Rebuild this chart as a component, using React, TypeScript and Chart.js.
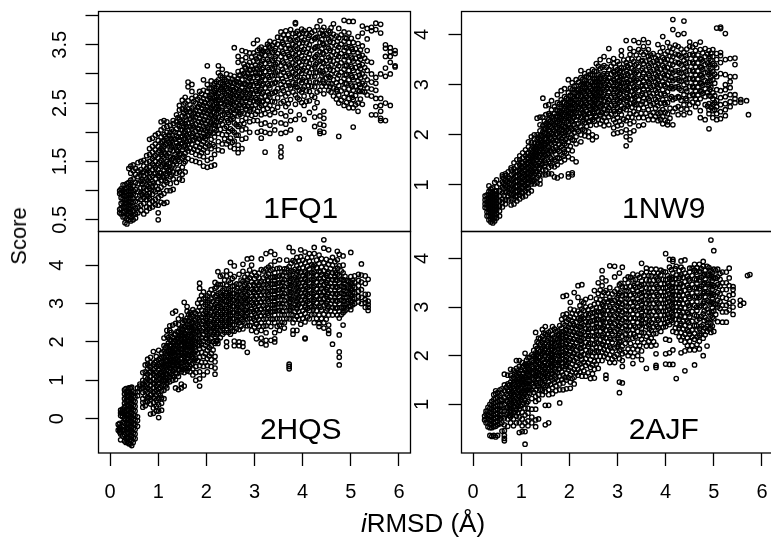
import React, { useEffect, useRef } from "react";
import { Chart, registerables } from "chart.js";

Chart.register(...registerables);

const FONT = '"Liberation Sans", Arial, sans-serif';

const xTicks = [0, 1, 2, 3, 4, 5, 6];
const ticks1FQ1 = [0.5, 1, 1.5, 2, 2.5, 3, 3.5, 4];
const labels1FQ1 = [0.5, 1.5, 2.5, 3.5];
const ticks1NW9 = [1, 2, 3, 4];
const ticks2HQS = [0, 1, 2, 3, 4];
const ticks2AJF = [1, 2, 3, 4];

// each row: one x reading with the scores read at about that x
const cols1FQ1: [number, number[]][] = [
[.2,[.62,.68,.95,1.0]],[.23,[.6,.7,.78,.88,.97,1.03]],[.27,[.55,.63,.72,.8,.86,.92,1.0,1.1]],
[.31,[.45,.55,.64,.71,.78,.84,.9,.97,1.03,1.1]],[.35,[.43,.52,.6,.66,.73,.79,.85,.92,.98,1.05,1.12]],
[.39,[.5,.58,.64,.7,.76,.82,.88,.94,1,1.07,1.14,1.38]],[.43,[.48,.55,.62,.68,.74,.8,.86,.92,.98,1.04,1.1,1.18,1.3,1.42]],
[.48,[.5,.58,.66,.73,.8,.87,.94,1.0,1.08,1.2,1.34,1.44]],[.53,[.53,.6,.7,.82,.92,1.02,1.14,1.28,1.38]],
[.58,[.62,.72,.86,.98,1.12,1.24,1.34,1.48]],[.64,[.66,.75,.85,.96,1.05,1.16,1.26,1.36,1.5]],
[.7,[.6,.78,.88,.97,1.05,1.15,1.25,1.33,1.42,1.52]],[.76,[.65,.72,.85,.93,1.02,1.1,1.2,1.3,1.38,1.48,1.6]],
[.82,[.7,.78,.86,.95,1.04,1.13,1.22,1.31,1.4,1.5,1.62,1.72,1.88]],[.88,[.72,.82,.94,1.06,1.16,1.25,1.36,1.46,1.55,1.66,1.76,1.9]],
[.94,[.76,.85,.98,1.08,1.2,1.3,1.39,1.5,1.6,1.7,1.8,1.95]],[1.0,[.5,.62,.75,.88,1.02,1.14,1.26,1.36,1.46,1.56,1.66,1.76,1.86,1.98]],
[1.06,[.8,.92,1.06,1.18,1.3,1.42,1.52,1.62,1.72,1.82,1.92,2.04,2.18]],[1.12,[.78,.95,1.1,1.22,1.34,1.46,1.56,1.66,1.76,1.86,1.96,2.08,2.2]],
[1.18,[.8,1.0,1.14,1.26,1.38,1.5,1.6,1.7,1.8,1.9,2.0,2.1,2.18]],[1.25,[1.0,1.12,1.24,1.36,1.48,1.58,1.7,1.8,1.9,2.0,2.12]],
[1.31,[1.02,1.2,1.32,1.44,1.56,1.68,1.78,1.9,2.02,2.15,2.2]],[1.38,[1.14,1.3,1.46,1.58,1.7,1.82,1.94,2.06,2.18,2.3]],
[1.44,[1.2,1.32,1.5,1.62,1.74,1.86,1.98,2.1,2.22,2.38,2.46]],[1.5,[1.18,1.28,1.4,1.56,1.7,1.82,1.94,2.04,2.16,2.28,2.4,2.55]],
[1.56,[1.32,1.5,1.64,1.78,1.9,2.02,2.14,2.26,2.38,2.5,2.6]],[1.62,[1.55,1.68,1.8,1.92,2.04,2.16,2.28,2.4,2.54,2.78,2.86]],
[1.7,[1.52,1.66,1.8,1.94,2.06,2.18,2.3,2.42,2.58,2.7,2.82]],[1.78,[1.5,1.62,1.76,1.9,2.02,2.14,2.26,2.38,2.5,2.62]],
[1.86,[1.48,1.6,1.74,1.88,2.0,2.12,2.24,2.36,2.48,2.6,2.7]],[1.94,[1.42,1.58,1.7,1.84,1.98,2.1,2.22,2.34,2.46,2.58,2.72,2.9]],
[2.02,[1.4,1.52,1.66,1.8,1.94,2.08,2.2,2.32,2.44,2.56,2.7,2.82,3.14]],[2.1,[1.42,1.55,1.72,1.88,2.02,2.16,2.28,2.4,2.52,2.64,2.76,2.88]],
[2.17,[1.44,1.62,1.76,1.92,2.06,2.2,2.34,2.48,2.6,2.72,2.84]],[2.25,[1.7,1.84,1.98,2.12,2.26,2.4,2.54,2.66,2.78,2.9,3.02,3.14]],
[2.33,[1.68,1.8,1.96,2.14,2.3,2.44,2.56,2.7,2.82,2.94,3.08]],[2.42,[1.8,1.96,2.1,2.24,2.38,2.52,2.64,2.76,2.88,3.0]],
[2.5,[1.75,1.9,2.06,2.22,2.36,2.5,2.62,2.74,2.86,2.98]],[2.58,[1.72,1.85,2.0,2.16,2.32,2.46,2.58,2.7,2.84,2.96,3.45]],
[2.66,[1.65,1.78,1.95,2.1,2.28,2.42,2.56,2.68,2.8,2.92,3.04,3.2,3.3]],[2.74,[1.72,1.88,2.04,2.2,2.36,2.5,2.62,2.76,2.9,3.06,3.24,3.4]],
[2.82,[1.9,2.06,2.24,2.4,2.54,2.68,2.82,2.96,3.1,3.28,3.38]],[2.9,[2.0,2.18,2.36,2.5,2.64,2.78,2.92,3.06,3.2,3.36]],
[2.98,[2.2,2.4,2.54,2.66,2.8,2.94,3.08,3.22,3.36,3.52]],[3.06,[2.0,2.2,2.36,2.52,2.66,2.8,2.94,3.08,3.22,3.4,3.58]],
[3.14,[1.9,2.02,2.14,2.3,2.46,2.6,2.74,2.88,3.02,3.16,3.34,3.46]],[3.22,[1.66,2.0,2.16,2.32,2.48,2.62,2.76,2.9,3.04,3.18,3.32,3.44]],
[3.32,[1.98,2.12,2.3,2.46,2.6,2.76,2.9,3.04,3.18,3.32,3.46,3.56]],[3.42,[2.04,2.18,2.34,2.52,2.68,2.84,2.98,3.12,3.26,3.4,3.54]],
[3.55,[1.58,1.66,1.75,1.98,2.16,2.32,2.5,2.66,2.82,2.98,3.14,3.3,3.46,3.62,3.72]],[3.65,[2.0,2.14,2.28,2.44,2.62,2.8,2.96,3.12,3.28,3.44,3.6,3.74]],
[3.75,[2.04,2.2,2.36,2.56,2.76,2.94,3.1,3.26,3.42,3.58,3.76]],[3.85,[2.22,2.48,2.64,2.82,3.0,3.16,3.32,3.48,3.64,3.86,3.88]],
[3.93,[1.89,2.3,2.56,2.72,2.88,3.04,3.2,3.36,3.52,3.68]],[4.03,[2.22,2.46,2.62,2.78,2.94,3.1,3.26,3.42,3.58,3.74]],
[4.14,[2.34,2.54,2.7,2.86,3.02,3.18,3.34,3.5,3.66,3.76]],[4.25,[2.1,2.26,2.42,2.6,2.78,2.96,3.12,3.28,3.44,3.6,3.74]],
[4.36,[1.98,2.02,2.14,2.28,2.72,2.9,3.06,3.22,3.38,3.54,3.7,3.91]],[4.44,[2.0,2.12,2.24,2.36,2.66,2.84,3.0,3.18,3.34,3.5,3.66,3.8]],
[4.54,[2.72,2.84,2.96,3.12,3.28,3.44,3.6,3.74]],[4.64,[2.62,2.76,2.9,3.06,3.22,3.38,3.54,3.68,3.86]],
[4.75,[1.93,2.5,2.64,2.8,2.98,3.14,3.3,3.46,3.62,3.78]],[4.86,[2.46,2.6,2.76,2.92,3.08,3.24,3.4,3.56,3.72,3.92]],
[4.96,[2.42,2.58,2.74,2.9,3.06,3.22,3.38,3.54,3.7,3.9]],[5.05,[2.09,2.42,2.56,2.72,2.9,3.06,3.22,3.38,3.54,3.9]],
[5.15,[2.36,2.5,2.72,2.88,3.04,3.2,3.36,3.52,3.64]],[5.24,[2.48,2.7,2.84,3.0,3.16,3.32,3.48,3.7,3.82]],
[5.34,[2.64,2.76,2.9,3.06,3.22,3.4,3.6,3.78]],[5.43,[2.3,2.62,2.74,2.86,3.0,3.2,3.74,3.8]],
[5.52,[2.3,2.44,2.58,2.72,2.84,2.94,3.76,3.87]],[5.62,[2.2,2.24,2.36,2.46,2.58,3.0,3.7,3.85]],
[5.72,[2.2,2.5,2.96,3.1,3.3,3.44,3.5]],[5.82,[2.46,3.0,3.2,3.3,3.38,3.45]],[5.92,[3.12,3.14,3.35,3.4]]
];

const extra1FQ1: [number, number[]][] = [
[.67,[.93,1.11,1.19,1.31]],[.79,[.9,1.07,1.17,1.34]],[.91,[1.01,1.13,1.29,1.43,1.58]],[1.03,[.97,1.23,1.31,1.49,1.69]],
[1.15,[1.17,1.29,1.41,1.63,1.79,1.93]],[1.28,[1.27,1.39,1.53,1.75,1.87,2.05]],[1.41,[1.37,1.53,1.67,1.77,1.91,2.13,2.25]],
[1.53,[1.47,1.59,1.75,1.87,1.99,2.09,2.33,2.47]],[1.66,[1.73,1.85,1.97,2.09,2.23,2.35,2.47]],[1.74,[1.71,1.87,2.09,2.21,2.33,2.53]],
[1.82,[1.69,1.83,1.95,2.07,2.31,2.43,2.57]],[1.9,[1.65,1.79,1.93,2.17,2.29,2.41,2.53,2.66]],[1.98,[1.75,1.89,2.03,2.15,2.27,2.39,2.51,2.63]],
[2.06,[1.77,1.97,2.11,2.25,2.37,2.49,2.61,2.75]],[2.14,[1.79,1.99,2.13,2.23,2.35,2.45,2.57,2.69,2.81]],[2.21,[2.03,2.17,2.31,2.43,2.51,2.63,2.75,2.87]],
[2.29,[2.05,2.19,2.35,2.49,2.59,2.73,2.85,2.97]],[2.38,[1.89,2.07,2.31,2.47,2.57,2.67,2.79,2.91]],[2.46,[1.85,2.01,2.17,2.31,2.45,2.57,2.69,2.81,2.93]],
[2.54,[1.83,2.03,2.27,2.41,2.53,2.65,2.77,2.91]],[2.62,[1.95,2.13,2.37,2.51,2.63,2.75,2.87]],[2.7,[2.13,2.31,2.47,2.59,2.71,2.83,2.97]],
[2.78,[2.15,2.33,2.47,2.59,2.69,2.83,3.01,3.17]],[2.86,[2.31,2.45,2.59,2.73,2.87,3.01,3.15]],[2.94,[2.29,2.45,2.6,2.73,2.87,3.01,3.13,3.29]],
[3.02,[2.31,2.47,2.59,2.73,2.87,3.03,3.15,3.31]],[3.1,[2.43,2.55,2.71,2.85,3.01,3.13,3.29,3.43]],[3.18,[2.39,2.53,2.69,2.83,2.97,3.11,3.25,3.39]],
[3.27,[2.41,2.55,2.69,2.83,2.97,3.11,3.25,3.39,3.51]],[3.37,[2.39,2.53,2.67,2.83,2.97,3.09,3.23,3.37,3.49]],[3.48,[2.43,2.59,2.75,2.91,3.05,3.19,3.35,3.51,3.63]],
[3.6,[2.53,2.71,2.87,3.03,3.19,3.35,3.51,3.67]],[3.7,[2.49,2.67,2.85,3.01,3.17,3.33,3.49,3.67]],[3.8,[2.69,2.85,3.03,3.19,3.35,3.51,3.69]],
[3.89,[2.59,2.77,2.95,3.11,3.27,3.43,3.59,3.73]],[3.98,[2.51,2.69,2.85,3.01,3.15,3.31,3.47,3.63,3.77]],[4.08,[2.53,2.71,2.87,3.05,3.21,3.37,3.53,3.69]],
[4.19,[2.63,2.79,2.95,3.09,3.25,3.41,3.57,3.71]],[4.3,[2.51,2.69,2.85,3.03,3.19,3.33,3.47,3.63,3.81]],[4.4,[2.79,2.97,3.11,3.27,3.43,3.59,3.75]],
[4.49,[2.79,2.93,3.07,3.23,3.39,3.53,3.69]],[4.59,[2.69,2.83,2.99,3.15,3.31,3.47,3.63,3.79]],[4.7,[2.57,2.73,2.85,3.01,3.17,3.33,3.49,3.65]],
[4.8,[2.55,2.71,2.87,3.03,3.19,3.35,3.51,3.67]],[4.91,[2.51,2.67,2.83,2.99,3.15,3.31,3.45,3.61]],[5.01,[2.49,2.65,2.81,2.97,3.13,3.29,3.45,3.61]],
[5.1,[2.47,2.63,2.79,2.95,3.11,3.27,3.43]],[5.2,[2.57,2.77,2.93,3.09,3.25,3.41]],[5.29,[2.69,2.81,2.95,3.11,3.27]]
];

const core1FQ1: [number, number[]][] = [
[1.09,[1.25,1.44,1.59,1.7,1.84]],[1.22,[1.35,1.47,1.64,1.83,1.95]],[1.35,[1.5,1.62,1.75,1.88,2.0]],[1.47,[1.64,1.8,1.92,2.05,2.19]],
[1.59,[1.72,1.84,1.95,2.1,2.21,2.36]],[1.72,[1.86,1.98,2.12,2.26,2.38]],[1.84,[1.9,2.05,2.18,2.3,2.44]],[1.96,[1.93,2.06,2.2,2.36,2.5]],
[2.08,[2.0,2.14,2.3,2.42,2.58]],[2.19,[2.12,2.26,2.4,2.55,2.68]],[2.31,[2.22,2.38,2.5,2.62,2.76]],[2.44,[2.2,2.34,2.48,2.6,2.72,2.84]],
[2.56,[2.24,2.38,2.5,2.62,2.73,2.86]],[2.68,[2.34,2.46,2.6,2.72,2.86,2.98]],[2.8,[2.44,2.58,2.72,2.84,2.98,3.12]],[2.92,[2.4,2.56,2.68,2.82,2.96,3.08]],
[3.04,[2.56,2.7,2.84,2.98,3.1,3.26]],[3.16,[2.52,2.66,2.8,2.94,3.08,3.22,3.36]],[3.3,[2.64,2.8,2.94,3.08,3.22,3.36,3.48]],[3.44,[2.7,2.86,3.02,3.16,3.3,3.44]],
[3.58,[2.76,2.92,3.08,3.22,3.38,3.54]],[3.72,[2.8,2.98,3.14,3.3,3.44,3.6]],[3.86,[2.78,2.92,3.08,3.24,3.4,3.56,3.7]],[4.0,[2.74,2.9,3.06,3.22,3.38,3.54,3.7]],
[4.12,[2.8,2.96,3.12,3.28,3.44,3.62]],[4.27,[2.86,3.02,3.16,3.3,3.46,3.62]],[4.42,[2.88,3.04,3.2,3.36,3.52,3.68]],[4.57,[2.78,2.94,3.08,3.24,3.4,3.56,3.72]],
[4.72,[2.7,2.92,3.08,3.24,3.4,3.56]],[4.88,[2.84,2.98,3.14,3.3,3.46,3.62]],[5.03,[2.6,2.78,2.94,3.1,3.26,3.42]],[5.18,[2.7,2.82,2.98,3.14,3.3]]
];

const cols1NW9: [number, number[]][] = [
[.25,[.55,.62,.7,.78]],[.29,[.38,.46,.54,.6,.66,.72,.8]],[.33,[.3,.38,.45,.5,.56,.62,.68,.74,.8,.87,.98]],
[.37,[.26,.32,.38,.44,.5,.56,.62,.68,.74,.8,.86,.92]],[.41,[.24,.3,.36,.42,.48,.54,.6,.66,.72,.78,.84,.94]],
[.45,[.28,.34,.4,.46,.52,.58,.64,.7,.76,.82,.88,1.05]],[.49,[.34,.42,.5,.56,.62,.68,.74,.8,.88,.96,1.1]],
[.55,[.38,.48,.58,.68,.78,.88,1.02]],[.61,[.56,.65,.72,.84,.96,1.06,1.16,1.2]],[.67,[.62,.7,.86,.98,1.08,1.18,1.22]],
[.73,[.7,.78,.88,.98,1.08,1.16,1.26]],[.79,[.6,.72,.8,.9,1.0,1.1,1.2,1.3,1.34]],[.85,[.62,.72,.82,.92,1.02,1.12,1.22,1.32,1.44]],
[.91,[.68,.78,.88,.98,1.08,1.18,1.28,1.38,1.5]],[.97,[.72,.8,.9,1.0,1.1,1.2,1.3,1.4,1.5,1.58]],
[1.03,[.76,.84,.94,1.04,1.14,1.24,1.34,1.44,1.54,1.64]],[1.09,[.78,.88,.98,1.08,1.18,1.28,1.38,1.48,1.58,1.7]],
[1.15,[.84,.94,1.04,1.14,1.24,1.34,1.44,1.54,1.64,1.76,1.86]],[1.21,[.88,1.02,1.12,1.22,1.32,1.42,1.52,1.62,1.72,1.84,1.96]],
[1.27,[1.02,1.1,1.22,1.32,1.42,1.52,1.62,1.72,1.82,1.92,2.0]],[1.33,[1.04,1.14,1.26,1.38,1.5,1.6,1.7,1.8,1.9,2.0,2.33]],
[1.39,[1.02,1.1,1.22,1.34,1.46,1.58,1.68,1.78,1.88,1.98,2.08,2.2,2.35]],[1.45,[1.2,1.3,1.42,1.54,1.66,1.76,1.86,1.96,2.06,2.18,2.35,2.73]],
[1.51,[1.2,1.3,1.44,1.58,1.7,1.82,1.92,2.02,2.12,2.22,2.4,2.58]],[1.57,[1.22,1.34,1.46,1.62,1.76,1.88,2.0,2.1,2.2,2.3,2.42,2.6]],
[1.63,[1.22,1.38,1.52,1.66,1.8,1.92,2.04,2.14,2.24,2.36,2.5,2.68]],[1.69,[1.16,1.36,1.5,1.68,1.84,1.96,2.08,2.2,2.3,2.42,2.56]],
[1.75,[1.14,1.4,1.54,1.7,1.88,2.02,2.14,2.26,2.36,2.48,2.64,2.8]],[1.83,[1.18,1.46,1.6,1.76,1.92,2.08,2.2,2.32,2.44,2.56,2.7,2.88]],
[1.9,[1.5,1.66,1.82,1.98,2.14,2.28,2.4,2.52,2.64,2.76,2.92]],[1.98,[1.16,1.22,1.56,1.7,1.86,2.06,2.2,2.34,2.46,2.58,2.7,2.84,3.1]],
[2.06,[1.2,1.24,1.52,1.68,1.9,2.1,2.26,2.4,2.52,2.64,2.76,2.9,3.04]],[2.14,[1.46,1.82,1.96,2.14,2.3,2.44,2.58,2.7,2.84,2.98,3.1]],
[2.24,[1.86,2.0,2.16,2.34,2.5,2.62,2.76,2.88,3.0,3.14,3.28]],[2.32,[1.98,2.08,2.24,2.4,2.54,2.68,2.82,2.94,3.08,3.22]],
[2.4,[1.96,2.06,2.26,2.42,2.58,2.72,2.86,3.0,3.14,3.26]],[2.48,[1.9,2.0,2.3,2.46,2.6,2.76,2.9,3.04,3.18,3.3]],
[2.56,[1.96,2.2,2.36,2.52,2.68,2.82,2.96,3.1,3.26,3.42]],[2.64,[2.22,2.4,2.58,2.74,2.88,3.02,3.16,3.32,3.5]],
[2.72,[2.18,2.34,2.5,2.66,2.8,2.94,3.08,3.22,3.38,3.56]],[2.82,[2.2,2.36,2.54,2.7,2.86,3.0,3.14,3.3,3.48,3.72]],
[2.92,[2.02,2.14,2.3,2.5,2.66,2.82,2.96,3.1,3.26,3.42,3.52]],[3.0,[2.04,2.18,2.34,2.54,2.7,2.86,3.0,3.14,3.3,3.46]],
[3.08,[2.06,2.2,2.4,2.58,2.74,2.9,3.04,3.18,3.34,3.58,3.68]],[3.18,[1.78,1.96,2.1,2.28,2.5,2.68,2.84,2.98,3.12,3.28,3.44,3.88]],
[3.26,[1.9,2.04,2.22,2.42,2.62,2.78,2.94,3.08,3.24,3.4,3.6,3.72]],[3.34,[2.08,2.26,2.46,2.64,2.8,2.96,3.12,3.28,3.46,3.66,3.88]],
[3.44,[2.18,2.34,2.52,2.7,2.88,3.04,3.2,3.36,3.52,3.7,3.84]],[3.54,[2.2,2.34,2.54,2.74,2.92,3.08,3.24,3.42,3.6,3.76,3.9]],
[3.64,[2.3,2.5,2.72,2.9,3.06,3.22,3.38,3.56,3.7,3.84]],[3.74,[2.3,2.44,2.62,2.82,2.98,3.14,3.3,3.46,3.62]],
[3.84,[2.28,2.42,2.58,2.76,2.94,3.1,3.26,3.42,3.58,3.8]],[3.94,[2.22,2.36,2.5,2.7,2.9,3.06,3.22,3.38,3.54,3.74,3.96]],
[4.04,[2.2,2.26,2.42,2.64,2.86,3.02,3.18,3.34,3.5,3.66,3.84]],[4.15,[2.2,2.46,2.7,2.92,3.08,3.24,3.4,3.56,3.72,4.1,4.3]],
[4.26,[2.4,2.56,2.76,2.96,3.12,3.28,3.44,3.6,3.76,4.0]],[4.38,[2.4,2.6,2.8,3.0,3.16,3.32,3.48,3.64,4.02,4.27]],
[4.5,[2.44,2.6,2.78,2.96,3.12,3.28,3.44,3.6,3.76,3.85]],[4.62,[2.56,2.72,2.88,3.04,3.2,3.36,3.52,3.68,3.8]],
[4.72,[2.34,2.48,2.72,2.88,3.04,3.2,3.36,3.52,3.7,3.85]],[4.82,[2.3,2.6,2.76,2.92,3.08,3.24,3.4,3.56,3.72]],
[4.9,[2.12,2.42,2.5,2.62,2.78,3.0,3.2,3.36,3.52,3.68]],[4.98,[2.34,2.48,2.6,2.72,2.84,3.1,3.26,3.42,3.56,3.7]],
[5.06,[2.3,2.42,2.56,2.68,2.9,3.16,3.34,3.5,3.62,4.13]],[5.14,[2.32,2.46,2.6,2.74,2.88,3.22,3.44,3.58,3.64,4.12,4.15]],
[5.24,[2.38,2.5,2.62,2.76,2.9,3.0,3.2,3.5,4.02]],[5.34,[2.56,2.66,2.8,2.94,3.06,3.16,3.52]],
[5.44,[2.64,2.72,2.8,3.16,3.4,3.53]],[5.56,[2.65,2.7]],[5.68,[2.68]],[5.72,[2.4]]
];

const extra1NW9: [number, number[]][] = [
[.64,[.79,.93,1.03,1.13]],[.76,[.83,.93,1.03,1.13]],[.88,[.77,.87,.97,1.07,1.17,1.27]],[1.0,[.85,.95,1.05,1.15,1.25,1.35,1.45]],
[1.12,[.93,1.03,1.13,1.23,1.33,1.43,1.53,1.63]],[1.24,[1.07,1.17,1.27,1.37,1.47,1.57,1.67,1.77]],[1.36,[1.19,1.31,1.43,1.55,1.65,1.75,1.85,1.95]],
[1.48,[1.37,1.49,1.61,1.73,1.83,1.93,2.03,2.13,2.27]],[1.6,[1.43,1.55,1.69,1.83,1.95,2.07,2.17,2.27,2.39]],[1.72,[1.47,1.61,1.75,1.89,2.01,2.13,2.25,2.37,2.5]],
[1.79,[1.53,1.67,1.81,1.97,2.11,2.23,2.35,2.47,2.61]],[1.87,[1.57,1.71,1.87,2.03,2.17,2.29,2.41,2.53,2.65]],[1.94,[1.63,1.79,1.93,2.09,2.25,2.37,2.49,2.61,2.73]],
[2.02,[1.77,1.95,2.15,2.31,2.43,2.55,2.67,2.79,2.93]],[2.1,[1.89,2.05,2.21,2.35,2.47,2.61,2.73,2.85,2.97]],[2.19,[2.07,2.23,2.37,2.53,2.65,2.79,2.91,3.05]],
[2.28,[2.11,2.27,2.45,2.57,2.71,2.85,2.97,3.11]],[2.36,[2.17,2.33,2.47,2.61,2.75,2.89,3.03,3.17]],[2.44,[2.19,2.35,2.51,2.65,2.79,2.93,3.07,3.21]],
[2.52,[2.27,2.43,2.57,2.71,2.85,2.99,3.13,3.27]],[2.6,[2.31,2.47,2.63,2.79,2.93,3.07,3.21,3.37]],[2.68,[2.29,2.45,2.61,2.77,2.91,3.05,3.19,3.35]],
[2.77,[2.27,2.43,2.59,2.75,2.91,3.05,3.19,3.35]],[2.87,[2.41,2.59,2.75,2.91,3.05,3.21,3.37]],[2.96,[2.25,2.41,2.59,2.75,2.91,3.05,3.21,3.35]],
[3.04,[2.27,2.47,2.65,2.81,2.95,3.09,3.25,3.41]],[3.13,[2.31,2.53,2.71,2.87,3.03,3.17,3.33,3.49]],[3.22,[2.35,2.57,2.73,2.89,3.03,3.19,3.35,3.51]],
[3.3,[2.35,2.55,2.71,2.87,3.03,3.17,3.33,3.51]],[3.39,[2.41,2.61,2.77,2.93,3.09,3.25,3.41,3.59]],[3.49,[2.43,2.61,2.79,2.97,3.13,3.29,3.47,3.65]],
[3.59,[2.43,2.63,2.81,2.97,3.13,3.29,3.47,3.65]],[3.69,[2.39,2.59,2.77,2.95,3.11,3.27,3.43,3.59]],[3.79,[2.37,2.53,2.71,2.89,3.05,3.21,3.37,3.53]],
[3.89,[2.31,2.45,2.63,2.81,2.99,3.15,3.31,3.47,3.65]],[3.99,[2.29,2.45,2.61,2.79,2.97,3.13,3.29,3.45,3.61]],[4.09,[2.33,2.53,2.73,2.93,3.09,3.25,3.41,3.57,3.75]],
[4.2,[2.53,2.73,2.95,3.11,3.27,3.45,3.61,3.79]],[4.32,[2.51,2.69,2.89,3.07,3.23,3.39,3.55,3.71]],[4.44,[2.51,2.69,2.87,3.05,3.21,3.37,3.53,3.71]],
[4.56,[2.65,2.81,2.97,3.13,3.29,3.45,3.61,3.75]],[4.67,[2.63,2.79,2.95,3.11,3.27,3.43,3.59]],[4.77,[2.83,2.99,3.15,3.31,3.47,3.63]],
[4.87,[2.57,2.85,3.05,3.25,3.43,3.61]],[4.94,[2.55,2.77,2.95,3.15,3.33,3.49,3.63]],[5.02,[2.5,2.64,2.78,3.03,3.21,3.39]]
];

const core1NW9: [number, number[]][] = [
[1.06,[1.0,1.11,1.22,1.36]],[1.18,[1.1,1.2,1.3,1.47,1.58]],[1.3,[1.27,1.4,1.56,1.66,1.76]],[1.42,[1.4,1.5,1.62,1.73,1.84,1.98]],
[1.54,[1.6,1.72,1.85,1.98,2.15,2.25]],[1.66,[1.72,1.88,2.0,2.1,2.22,2.34]],[1.78,[1.8,1.94,2.06,2.18,2.3,2.42]],[1.92,[1.9,2.04,2.16,2.32,2.44,2.56]],
[2.04,[2.0,2.12,2.28,2.44,2.58,2.7]],[2.16,[2.1,2.22,2.36,2.48,2.62,2.76,2.88]],[2.3,[2.3,2.42,2.58,2.72,2.86,3.0]],[2.42,[2.28,2.44,2.56,2.7,2.82,2.96]],
[2.54,[2.38,2.54,2.66,2.8,2.92,3.06]],[2.66,[2.44,2.56,2.7,2.84,2.98,3.12]],[2.79,[2.48,2.64,2.78,2.94,3.08,3.22]],[2.93,[2.46,2.62,2.78,2.92,3.08,3.24]],
[3.06,[2.5,2.68,2.84,2.98,3.14,3.28]],[3.2,[2.6,2.76,2.92,3.06,3.22,3.38]],[3.36,[2.6,2.74,2.9,3.06,3.22,3.38]],[3.52,[2.66,2.82,2.98,3.16,3.32,3.48]],
[3.66,[2.68,2.84,3.02,3.18,3.34,3.5]],[3.82,[2.66,2.84,3.0,3.16,3.32,3.48]],[3.97,[2.64,2.82,3.0,3.18,3.34,3.5]],[4.12,[2.76,2.96,3.14,3.3,3.48,3.64]],
[4.28,[2.74,2.92,3.08,3.24,3.42,3.58]],[4.42,[2.72,2.92,3.1,3.26,3.42,3.58]],[4.58,[2.78,2.94,3.1,3.26,3.42,3.58]],[4.74,[2.86,3.02,3.18,3.34,3.5]],[4.92,[2.9,3.08,3.24,3.4,3.56]]
];

const cols2HQS: [number, number[]][] = [
[.17,[-.3,-.15]],[.2,[-.35,-.28,-.22,-.12]],[.22,[.08,.15,.22,-.25,-.32,-.4,-.55]],[.26,[-.45,-.3,-.1,.05,.14,.2,.25]],
[.3,[-.58,-.42,-.28,-.12,0,.1,.2,.3,.4,.52,.64,.75]],[.33,[-.62,-.5,-.38,-.26,-.14,-.02,.1,.22,.34,.46,.58,.7,.78]],
[.36,[-.6,-.48,-.36,-.24,-.12,0,.12,.24,.36,.48,.6,.72]],[.39,[-.65,-.5,-.38,-.26,-.14,-.02,.1,.22,.34,.46,.58,.7,.8]],
[.42,[-.66,-.54,-.42,-.3,-.18,-.06,.06,.18,.3,.42,.54,.66,.8]],[.45,[-.7,-.56,-.44,-.32,-.2,-.08,.04,.16,.28,.4,.52,.64,.82]],
[.48,[-.62,-.5,-.38,-.26,-.14,-.02,.1,.22,.34,.46,.58,.7]],[.52,[-.52,-.4,-.28,-.16,-.04,.08,.2,.32,.44,.56,.68]],
[.57,[-.2,-.05,.05,.6,.7,.8]],[.62,[.78,.85,.9]],[.68,[.3,.42,.52,.68,.8,.9,1.0,1.2]],[.73,[.34,.44,.6,.72,.84,.96,1.08,1.22,1.4]],
[.78,[.45,.56,.68,.8,.92,1.04,1.16,1.3,1.42,1.55]],[.84,[.12,.38,.5,.62,.74,.86,.98,1.1,1.22,1.34,1.46,1.6]],
[.9,[.14,.28,.42,.55,.68,.8,.92,1.04,1.16,1.28,1.42,1.75]],[.96,[.2,.32,.48,.62,.74,.86,.98,1.1,1.22,1.36,1.5,1.62]],
[1.01,[.03,.2,.36,.52,.66,.78,.9,1.02,1.14,1.26,1.4,1.54,1.78]],[1.07,[.22,.4,.54,.72,.86,.98,1.1,1.22,1.34,1.46,1.6,1.72]],
[1.12,[.52,.74,.88,1.0,1.12,1.24,1.36,1.48,1.6,1.76,1.9,2.1]],[1.18,[.8,.92,1.04,1.16,1.28,1.4,1.52,1.64,1.76,1.9,2.16,2.3]],
[1.24,[.96,1.08,1.2,1.32,1.44,1.56,1.68,1.8,1.92,2.06,2.3,2.42]],[1.3,[1.0,1.12,1.24,1.36,1.48,1.6,1.72,1.84,1.98,2.12,2.44,2.75]],
[1.36,[.8,1.02,1.2,1.32,1.44,1.56,1.68,1.8,1.92,2.04,2.2,2.48,2.8]],[1.42,[.76,1.1,1.26,1.38,1.5,1.62,1.74,1.86,1.98,2.1,2.26,2.46,2.6]],
[1.48,[.8,.9,1.22,1.34,1.46,1.58,1.7,1.82,1.94,2.06,2.2,2.36,2.68]],[1.54,[.85,1.2,1.36,1.5,1.62,1.74,1.86,1.98,2.1,2.24,2.4,2.56,3.03]],
[1.6,[1.24,1.4,1.56,1.68,1.8,1.92,2.04,2.16,2.3,2.44,2.62,2.8,2.92]],[1.66,[1.22,1.36,1.5,1.64,1.78,1.9,2.02,2.16,2.3,2.46,2.64,2.76]],
[1.72,[1.14,1.3,1.44,1.58,1.74,1.9,2.06,2.2,2.34,2.5,2.66,2.84]],[1.78,[1.0,1.2,1.36,1.56,1.76,1.94,2.1,2.26,2.42,2.6,2.74]],
[1.86,[.85,1.04,1.22,1.38,1.6,1.82,2.0,2.18,2.34,2.52,2.7,2.9,3.1,3.4,3.53]],[1.94,[1.14,1.36,1.62,1.84,2.02,2.2,2.36,2.54,2.72,2.92,3.12,3.3]],
[2.02,[1.22,1.38,1.56,1.78,1.98,2.16,2.32,2.48,2.66,2.84,3.02,3.2]],[2.1,[1.36,1.54,1.7,1.9,2.08,2.26,2.42,2.58,2.76,2.94,3.12,3.36]],
[2.18,[1.16,1.32,1.48,1.62,1.96,2.14,2.3,2.46,2.62,2.8,2.98,3.18,3.4,3.55]],[2.24,[1.96,2.04,2.24,2.4,2.56,2.72,2.9,3.08,3.26,3.5,3.83]],
[2.34,[2.2,2.34,2.5,2.66,2.82,2.98,3.16,3.34,3.5,3.74]],[2.42,[1.88,2.0,2.3,2.44,2.6,2.76,2.92,3.08,3.26,3.46,3.72,3.85]],
[2.5,[2.2,2.36,2.52,2.68,2.84,3.0,3.16,3.34,3.54,3.76,4.07]],[2.58,[1.9,2.02,2.28,2.44,2.6,2.76,2.92,3.08,3.26,3.46,3.7,3.98]],
[2.68,[1.9,2.0,2.32,2.5,2.66,2.82,2.98,3.14,3.3,3.5,3.76]],[2.76,[1.88,1.98,2.34,2.54,2.7,2.86,3.02,3.18,3.36,3.58,3.84,4.02]],
[2.85,[1.73,2.42,2.6,2.76,2.92,3.08,3.24,3.42,3.62,3.76,4.16]],[2.94,[2.3,2.52,2.7,2.86,3.02,3.18,3.36,3.56,3.74,4.0,4.18]],
[3.04,[2.08,2.26,2.46,2.64,2.82,3.0,3.18,3.36,3.54,3.72]],[3.14,[1.96,2.1,2.3,2.5,2.68,2.86,3.04,3.22,3.4,3.58,3.88,4.16]],
[3.24,[1.92,2.04,2.24,2.42,2.6,2.78,2.96,3.14,3.32,3.5,3.72,3.9,4.3]],[3.34,[2.04,2.4,2.6,2.78,2.96,3.14,3.32,3.5,3.68,3.86,4.0,4.35]],
[3.42,[2.0,2.08,2.24,2.5,2.7,2.88,3.06,3.24,3.42,3.6,3.8,4.1,4.28]],[3.52,[2.3,2.44,2.6,2.82,3.0,3.18,3.36,3.54,3.72,3.92,4.14]],
[3.62,[2.36,2.5,2.7,2.9,3.08,3.26,3.44,3.62,3.82,3.9]],[3.72,[1.3,1.36,1.42,2.6,2.82,3.02,3.2,3.38,3.56,3.74,3.96,4.46]],
[3.8,[2.2,2.3,2.5,2.7,2.9,3.1,3.28,3.46,3.64,3.84,4.12,4.35]],[3.88,[2.3,2.66,2.86,3.04,3.22,3.4,3.58,3.76,3.98,4.2]],
[3.96,[2.46,2.7,2.9,3.08,3.26,3.44,3.62,3.8,4.02,4.22,4.4]],[4.05,[2.08,2.1,2.52,2.74,2.94,3.12,3.3,3.48,3.66,3.84,4.06,4.34]],
[4.14,[2.6,2.82,3.0,3.18,3.36,3.54,3.72,3.9,4.1,4.3]],[4.24,[2.5,2.72,2.92,3.1,3.28,3.46,3.64,3.82,4.0,4.3,4.46]],
[4.34,[2.4,2.48,2.7,2.94,3.12,3.3,3.48,3.66,3.84,4.04,4.26]],[4.44,[2.36,2.5,2.72,2.96,3.14,3.32,3.5,3.68,3.86,4.06,4.44,4.66]],
[4.54,[2.22,2.3,2.44,2.7,2.92,3.1,3.28,3.46,3.64,3.82,4.02,4.4]],[4.62,[1.94,2.7,2.9,3.08,3.26,3.44,3.62,3.8,4.0,4.2]],
[4.72,[2.7,2.88,3.06,3.24,3.42,3.6,3.76,3.92,4.14,4.36]],[4.76,[1.4,1.6,1.74,2.18,2.62,2.8,3.0,3.18,3.36,3.54,3.72,3.98,4.28]],
[4.84,[2.44,2.76,2.9,3.08,3.26,3.44,3.62,3.8,4.0,4.24]],[4.92,[2.86,3.0,3.16,3.3,3.46,3.6]],[5.0,[2.84,2.92,3.08,3.24,3.4,3.56,3.7,4.33]],
[5.08,[3.0,3.14,3.28,3.42,3.56,3.72]],[5.16,[3.04,3.18,3.32,3.46,3.6,3.76]],[5.22,[3.0,3.16,3.36,3.56,3.74,4.03]],[5.3,[2.9,3.02,3.1,3.24,3.52,3.72]],[5.36,[2.82,2.9,2.98,3.06,3.24,3.63]]
];

const extra2HQS: [number, number[]][] = [
[.81,[.55,.77,.99,1.21,1.37]],[.93,[.53,.71,.91,1.13,1.31,1.47]],[1.04,[.61,.81,1.03,1.19,1.37,1.57]],[1.15,[.85,.99,1.17,1.35,1.53,1.71,1.85]],
[1.21,[1.01,1.23,1.41,1.59,1.77,1.97,2.11]],[1.27,[1.15,1.31,1.53,1.71,1.89,2.05,2.25]],[1.33,[1.09,1.29,1.47,1.65,1.83,2.01,2.19]],[1.39,[1.17,1.37,1.53,1.71,1.89,2.07,2.27]],
[1.45,[1.27,1.45,1.65,1.81,1.99,2.15,2.33]],[1.51,[1.29,1.47,1.65,1.83,2.01,2.17,2.33,2.51]],[1.57,[1.31,1.49,1.69,1.87,2.03,2.21,2.39,2.55]],[1.63,[1.31,1.47,1.65,1.85,2.01,2.19,2.37,2.55,2.71]],
[1.69,[1.41,1.61,1.81,1.99,2.15,2.33,2.51,2.71]],[1.75,[1.53,1.71,1.87,2.03,2.21,2.39,2.57,2.77]],[1.82,[1.51,1.71,1.91,2.09,2.27,2.45,2.63,2.81,3.01]],[1.9,[1.47,1.73,1.95,2.11,2.29,2.47,2.65,2.83,3.03,3.21]],
[1.98,[1.47,1.69,1.91,2.09,2.27,2.43,2.61,2.79,2.97,3.15]],[2.06,[1.63,1.85,2.03,2.21,2.37,2.53,2.71,2.89,3.07,3.27]],[2.14,[1.79,2.01,2.19,2.35,2.51,2.69,2.87,3.05,3.25]],[2.21,[2.01,2.19,2.35,2.51,2.67,2.85,3.03,3.21,3.43]],
[2.29,[2.11,2.29,2.45,2.61,2.77,2.93,3.11,3.29,3.49,3.71]],[2.38,[2.25,2.41,2.55,2.71,2.87,3.05,3.21,3.39,3.61]],[2.46,[2.25,2.41,2.57,2.73,2.89,3.05,3.21,3.39,3.59]],[2.54,[2.29,2.45,2.61,2.77,2.93,3.11,3.27,3.45,3.65]],
[2.63,[2.35,2.53,2.69,2.85,3.01,3.17,3.33,3.51]],[2.72,[2.41,2.59,2.75,2.91,3.07,3.23,3.41,3.61]],[2.8,[2.49,2.67,2.83,2.99,3.15,3.31,3.49,3.69]],[2.9,[2.43,2.61,2.79,2.95,3.11,3.29,3.47,3.67,3.87]],
[3.0,[2.39,2.57,2.75,2.93,3.11,3.29,3.47,3.65,3.81]],[3.09,[2.41,2.59,2.77,2.95,3.13,3.31,3.49,3.67,3.79]],[3.19,[2.41,2.59,2.77,2.95,3.13,3.31,3.49,3.67,3.85]],[3.29,[2.51,2.69,2.87,3.05,3.23,3.41,3.59,3.77,3.95]],
[3.38,[2.59,2.79,2.97,3.15,3.33,3.51,3.69,3.89]],[3.47,[2.41,2.61,2.81,2.99,3.17,3.35,3.53,3.71,3.91]],[3.57,[2.51,2.71,2.91,3.09,3.27,3.45,3.63,3.83]],[3.67,[2.61,2.81,2.99,3.17,3.35,3.53,3.71,3.91,4.13]],
[3.76,[2.71,2.91,3.11,3.29,3.47,3.65,3.85,4.05]],[3.84,[2.59,2.79,2.97,3.15,3.33,3.51,3.69,3.89,4.09]],[3.92,[2.59,2.79,2.99,3.17,3.35,3.53,3.71,3.91,4.11]],[4.0,[2.61,2.81,3.01,3.19,3.37,3.55,3.73,3.93,4.13]],
[4.1,[2.65,2.87,3.05,3.23,3.41,3.59,3.77,3.97,4.19]],[4.19,[2.71,2.91,3.09,3.27,3.45,3.63,3.81,4.01,4.21]],[4.29,[2.61,2.81,3.01,3.19,3.37,3.55,3.73,3.93,4.13]],[4.39,[2.61,2.83,3.03,3.21,3.39,3.57,3.75,3.95,4.17]],
[4.49,[2.59,2.81,3.01,3.19,3.37,3.55,3.73,3.93,4.15]],[4.58,[2.81,2.99,3.17,3.35,3.53,3.71,3.91,4.11]],[4.67,[2.79,2.97,3.15,3.33,3.51,3.69,3.87,4.09]],[4.8,[2.71,2.89,3.09,3.27,3.45,3.63,3.85]],
[4.88,[2.81,2.97,3.15,3.33,3.51,3.71]],[4.96,[2.93,3.09,3.25,3.41,3.57]],[5.04,[2.97,3.13,3.29,3.45,3.61]]
];

const core2HQS: [number, number[]][] = [
[1.1,[1.0,1.15,1.3,1.42]],[1.26,[1.38,1.5,1.62,1.75,1.9]],[1.4,[1.42,1.58,1.74,1.92,2.1]],[1.55,[1.56,1.7,1.92,2.06,2.2]],
[1.7,[1.68,1.85,2.02,2.16,2.38]],[1.85,[1.9,2.06,2.24,2.4,2.58]],[2.0,[2.1,2.26,2.4,2.56,2.74]],[2.16,[2.24,2.38,2.56,2.72,2.9]],
[2.32,[2.4,2.56,2.72,2.88,3.04,3.2]],[2.48,[2.46,2.6,2.78,2.96,3.12,3.28]],[2.65,[2.56,2.74,2.9,3.06,3.22,3.4]],[2.82,[2.66,2.82,3.02,3.2,3.36,3.54]],
[2.98,[2.62,2.8,2.98,3.14,3.32,3.5]],[3.12,[2.68,2.84,3.02,3.2,3.36,3.54]],[3.27,[2.74,2.9,3.1,3.28,3.46,3.62]],[3.42,[2.8,2.96,3.14,3.32,3.5,3.68]],
[3.58,[2.8,3.0,3.2,3.38,3.56,3.74]],[3.74,[2.86,3.06,3.24,3.42,3.6,3.8]],[3.9,[2.94,3.12,3.3,3.46,3.64,3.84]],[4.06,[2.9,3.08,3.26,3.44,3.62,3.8]],
[4.22,[2.86,3.06,3.24,3.42,3.6,3.78,3.96]],[4.37,[2.9,3.1,3.28,3.46,3.64,3.82]],[4.52,[2.86,3.06,3.24,3.42,3.6,3.78]],[4.68,[2.88,3.08,3.26,3.44,3.62,3.8]],[4.86,[2.9,3.06,3.24,3.42,3.6]],[5.02,[3.04,3.2,3.36,3.52]]
];

const cols2AJF: [number, number[]][] = [
[.24,[.68,.76]],[.27,[.62,.7,.8,.86]],[.31,[.54,.62,.7,.78,.86,.94]],[.35,[.36,.52,.6,.68,.76,.84,.92,1.0]],
[.39,[.34,.52,.58,.66,.74,.82,.9,.98,1.06]],[.43,[.36,.54,.62,.7,.78,.86,.94,1.02,1.1,1.2]],[.47,[.33,.55,.64,.72,.8,.88,.96,1.04,1.12,1.22,1.28]],
[.51,[.36,.58,.66,.74,.82,.9,.98,1.06,1.14,1.24]],[.56,[.6,.7,.78,.88,.98,1.08,1.18,1.3]],[.6,[.45,.62,.74,.86,.98,1.1,1.22,1.32]],
[.65,[.25,.3,.36,.46,.58,.72,.86,1.0,1.14,1.28,1.4,1.62]],[.72,[.55,.7,.82,.94,1.06,1.18,1.3,1.42,1.6]],
[.78,[.62,.74,.86,.98,1.1,1.22,1.34,1.46,1.6,1.72]],[.84,[.56,.7,.84,.96,1.08,1.2,1.32,1.44,1.56,1.7]],
[.9,[.62,.76,.88,1.0,1.12,1.24,1.36,1.48,1.6,1.74,1.9]],[.96,[.42,.62,.74,.9,1.04,1.16,1.28,1.4,1.52,1.64,1.78,1.9]],
[1.02,[.44,.56,.7,.84,1.0,1.14,1.26,1.38,1.5,1.62,1.76,1.86]],[1.08,[.18,.44,.62,.78,.92,1.08,1.2,1.32,1.44,1.56,1.7,1.82,2.05]],
[1.14,[.56,.66,.82,.92,1.06,1.24,1.36,1.48,1.6,1.72,1.84,1.96]],[1.22,[.62,.74,.9,1.12,1.3,1.42,1.54,1.66,1.78,1.9,2.02]],
[1.3,[.54,.68,.9,1.06,1.16,1.3,1.46,1.58,1.7,1.82,1.94,2.06,2.2,2.48]],[1.36,[.7,1.1,1.2,1.36,1.5,1.62,1.74,1.86,1.98,2.12,2.26,2.36]],
[1.44,[1.2,1.28,1.42,1.56,1.68,1.8,1.92,2.04,2.16,2.28,2.4,2.54]],[1.5,[.58,.98,1.26,1.36,1.5,1.64,1.76,1.88,2.0,2.12,2.26,2.44,2.6]],
[1.57,[.62,.98,1.2,1.3,1.46,1.6,1.72,1.84,1.96,2.08,2.22,2.36,2.48]],[1.65,[1.22,1.34,1.5,1.64,1.78,1.9,2.02,2.14,2.28,2.44,2.6]],
[1.72,[1.28,1.38,1.54,1.68,1.82,1.94,2.08,2.22,2.36,2.5]],[1.8,[1.03,1.3,1.42,1.58,1.74,1.9,2.04,2.18,2.32,2.46,2.62]],
[1.87,[1.3,1.44,1.6,1.78,1.94,2.08,2.22,2.36,2.5,2.66,2.84,3.22]],[1.94,[1.32,1.5,1.64,1.82,1.98,2.12,2.26,2.4,2.54,2.7,2.86,3.24]],
[2.02,[1.33,1.46,1.6,1.76,1.92,2.08,2.22,2.36,2.5,2.64,2.8,2.96,3.1]],[2.1,[1.42,1.56,1.72,1.9,2.06,2.2,2.34,2.48,2.62,2.78,2.94,3.3]],
[2.18,[1.6,1.72,1.86,2.02,2.18,2.32,2.46,2.6,2.76,2.92,3.2,3.44]],[2.26,[1.58,1.76,1.92,2.08,2.24,2.38,2.52,2.66,2.8,2.96,3.12,3.46]],
[2.34,[1.58,1.8,1.94,2.12,2.28,2.42,2.56,2.7,2.84,3.0,3.16]],[2.44,[1.53,1.76,1.92,2.1,2.26,2.42,2.56,2.7,2.86,3.02,3.2]],
[2.52,[1.54,1.72,1.88,2.06,2.24,2.4,2.56,2.72,2.88,3.06,3.34]],[2.6,[1.74,1.9,2.08,2.26,2.42,2.58,2.74,2.9,3.08,3.28,3.5]],
[2.68,[1.9,2.08,2.24,2.42,2.58,2.74,2.9,3.06,3.24,3.44,3.6,3.75]],[2.76,[1.53,1.6,2.04,2.2,2.36,2.52,2.68,2.84,3.0,3.16,3.34,3.54]],
[2.84,[1.86,2.02,2.2,2.38,2.54,2.7,2.86,3.02,3.2,3.4,3.85]],[2.94,[1.86,1.98,2.16,2.34,2.5,2.66,2.82,2.98,3.14,3.32,3.62,3.84]],
[3.04,[1.46,1.24,1.94,2.1,2.28,2.46,2.62,2.78,2.94,3.1,3.28,3.46,3.7]],[3.1,[1.44,1.78,1.9,2.04,2.2,2.4,2.58,2.74,2.9,3.06,3.24,3.42,3.82]],
[3.22,[2.0,2.14,2.34,2.52,2.68,2.84,3.0,3.16,3.32,3.5,3.62]],[3.32,[1.84,1.98,2.14,2.36,2.54,2.7,2.86,3.02,3.18,3.36,3.56,3.68]],
[3.42,[2.0,2.12,2.28,2.5,2.68,2.84,3.0,3.16,3.32,3.48,3.66]],[3.5,[1.92,2.1,2.34,2.56,2.72,2.88,3.04,3.2,3.36,3.54,3.7,3.9]],
[3.6,[1.74,2.2,2.4,2.6,2.76,2.92,3.08,3.24,3.4,3.56,3.72,3.8]],[3.7,[2.2,2.36,2.52,2.68,2.84,3.0,3.16,3.32,3.48,3.64,3.78]],
[3.8,[1.76,1.8,2.04,2.22,2.46,2.64,2.82,2.98,3.14,3.3,3.46,3.62,3.78]],[3.9,[2.5,2.66,2.84,3.0,3.16,3.32,3.48,3.66,3.76]],
[4.0,[1.83,2.04,2.34,2.6,2.76,2.92,3.08,3.24,3.4,3.56,3.72,4.1]],[4.08,[1.82,2.06,2.32,2.64,2.8,2.96,3.12,3.28,3.44,3.6,3.82,3.98]],
[4.15,[1.82,2.12,2.5,2.68,2.84,3.0,3.16,3.32,3.5,3.7,3.94,3.98]],[4.22,[1.53,2.48,2.66,2.84,3.0,3.16,3.32,3.48,3.66,3.84]],
[4.32,[2.06,2.32,2.48,2.66,2.84,3.0,3.16,3.32,3.48,3.66,3.82,3.95]],[4.4,[1.69,2.1,2.28,2.44,2.62,2.8,2.98,3.16,3.34,3.52,3.7,3.97]],
[4.5,[2.12,2.3,2.44,2.6,2.8,3.0,3.18,3.36,3.54,3.72,3.8]],[4.6,[1.81,2.12,2.34,2.46,2.62,2.84,3.04,3.22,3.4,3.58,3.76,3.88]],
[4.7,[2.14,2.3,2.42,2.56,2.76,3.0,3.2,3.38,3.56,3.74,3.88]],[4.78,[2.0,2.36,2.5,2.64,2.86,3.08,3.28,3.46,3.64,3.84,3.94]],
[4.86,[2.2,2.5,2.6,2.74,2.96,3.14,3.32,3.5,3.68,3.84]],[4.94,[2.48,2.56,2.66,2.84,3.06,3.24,3.42,3.6,3.76,4.38]],
[5.0,[2.5,2.76,2.92,3.08,3.26,3.44,3.6,3.78,4.16]],[5.08,[2.7,3.0,3.14,3.3,3.46,3.62,3.78]],
[5.18,[2.69,2.9,3.04,3.2,3.36,3.5,3.72]],[5.26,[2.69,2.9,3.04,3.18,3.36,3.5,3.72]],[5.32,[2.94,3.08,3.24,3.44,3.6,3.8]],
[5.4,[2.85,3.0,3.12,3.26,3.36,3.42]],[5.55,[3.04,3.14]],[5.62,[3.08]],[5.7,[3.65]],[5.75,[3.67]]
];

const extra2AJF: [number, number[]][] = [
[.69,[.79,.93,1.07,1.21,1.35]],[.75,[.77,.91,1.03,1.15,1.27,1.39]],[.81,[.79,.91,1.03,1.15,1.27,1.41,1.53]],[.87,[.83,.95,1.05,1.17,1.29,1.41,1.53,1.65]],
[.93,[.83,.95,1.07,1.19,1.31,1.43,1.55,1.69]],[.99,[.97,1.09,1.21,1.33,1.45,1.57,1.71]],[1.05,[1.03,1.17,1.29,1.41,1.53,1.65,1.79]],[1.11,[1.03,1.17,1.29,1.43,1.55,1.67,1.79,1.91]],
[1.18,[1.23,1.35,1.47,1.59,1.71,1.85,1.97]],[1.26,[1.25,1.37,1.51,1.63,1.75,1.87,1.99,2.11]],[1.33,[1.39,1.53,1.65,1.77,1.91,2.03,2.15,2.29]],[1.4,[1.31,1.45,1.59,1.71,1.83,1.97,2.09,2.23,2.35]],
[1.47,[1.39,1.53,1.65,1.79,1.93,2.07,2.19,2.33,2.47]],[1.54,[1.39,1.55,1.67,1.81,1.93,2.05,2.19,2.31,2.43]],[1.61,[1.41,1.55,1.69,1.81,1.93,2.05,2.19,2.33,2.51]],[1.69,[1.45,1.59,1.73,1.87,1.99,2.11,2.25,2.39,2.55]],
[1.76,[1.49,1.65,1.79,1.93,2.07,2.21,2.35,2.51]],[1.84,[1.51,1.67,1.85,2.01,2.15,2.29,2.43,2.57,2.75]],[1.91,[1.55,1.73,1.89,2.05,2.19,2.33,2.47,2.63,2.79]],[1.98,[1.55,1.71,1.87,2.03,2.17,2.31,2.45,2.59,2.75]],
[2.06,[1.53,1.67,1.83,1.99,2.15,2.29,2.43,2.57,2.71,2.87]],[2.14,[1.65,1.79,1.95,2.11,2.27,2.41,2.55,2.69,2.85]],[2.22,[1.67,1.83,1.99,2.15,2.31,2.45,2.59,2.73,2.87,3.03]],[2.3,[1.69,1.87,2.03,2.19,2.35,2.49,2.63,2.77,2.93,3.09]],
[2.39,[1.65,1.85,2.01,2.19,2.35,2.49,2.63,2.79,2.95]],[2.48,[1.63,1.81,1.99,2.15,2.33,2.49,2.65,2.81,2.97]],[2.56,[1.83,1.99,2.17,2.35,2.51,2.67,2.83,2.99,3.17]],[2.64,[1.99,2.17,2.33,2.51,2.67,2.83,2.99,3.15,3.35]],
[2.72,[1.99,2.13,2.29,2.45,2.61,2.77,2.93,3.11,3.3]],[2.8,[1.95,2.11,2.29,2.45,2.61,2.77,2.93,3.11,3.29]],[2.89,[1.93,2.09,2.27,2.45,2.61,2.77,2.93,3.09,3.27]],[2.99,[2.03,2.19,2.37,2.55,2.71,2.87,3.03,3.19,3.37]],
[3.07,[2.13,2.29,2.49,2.67,2.83,2.99,3.15,3.31,3.49]],[3.16,[2.07,2.25,2.43,2.61,2.77,2.93,3.09,3.25,3.41,3.57]],[3.27,[2.07,2.25,2.45,2.61,2.77,2.93,3.09,3.25,3.43,3.61]],[3.37,[2.21,2.39,2.59,2.77,2.93,3.09,3.25,3.41,3.57]],
[3.46,[2.21,2.41,2.61,2.77,2.95,3.11,3.27,3.43,3.61]],[3.55,[2.27,2.47,2.67,2.83,2.99,3.15,3.31,3.47,3.65]],[3.65,[2.3,2.47,2.63,2.81,2.97,3.13,3.29,3.47,3.65]],[3.75,[2.29,2.45,2.59,2.75,2.91,3.07,3.23,3.39,3.55,3.71]],
[3.85,[2.57,2.73,2.91,3.07,3.23,3.39,3.55,3.7]],[3.95,[2.59,2.75,2.91,3.07,3.23,3.39,3.57,3.73]],[4.04,[2.69,2.85,3.01,3.17,3.33,3.49,3.65]],[4.12,[2.73,2.89,3.05,3.21,3.39,3.57,3.77]],
[4.2,[2.57,2.75,2.93,3.09,3.25,3.41,3.59,3.79]],[4.28,[2.39,2.57,2.75,2.93,3.09,3.25,3.41,3.59,3.75]],[4.36,[2.39,2.55,2.71,2.89,3.07,3.25,3.43,3.61,3.77]],[4.45,[2.21,2.37,2.53,2.71,2.89,3.09,3.27,3.45,3.63]],
[4.55,[2.21,2.39,2.53,2.71,2.91,3.11,3.29,3.47,3.65,3.8]],[4.65,[2.23,2.39,2.53,2.73,2.93,3.11,3.31,3.49,3.67,3.81]],[4.74,[2.45,2.61,2.81,3.03,3.23,3.43,3.61,3.79]],[4.82,[2.43,2.57,2.79,3.01,3.21,3.39,3.57,3.75]],
[4.9,[2.55,2.69,2.89,3.11,3.29,3.47,3.65,3.81]],[4.97,[2.61,2.79,2.99,3.19,3.37,3.55,3.71]],[5.04,[2.85,3.05,3.23,3.41,3.59,3.75]],[5.13,[2.97,3.11,3.27,3.43,3.57,3.69]]
];

const core2AJF: [number, number[]][] = [
[1.0,[1.1,1.24,1.42,1.54]],[1.16,[1.3,1.42,1.56,1.68,1.8]],[1.32,[1.42,1.6,1.74,1.88,2.0]],[1.48,[1.58,1.72,1.86,2.0,2.14]],
[1.63,[1.62,1.76,1.88,2.0,2.12,2.26]],[1.78,[1.72,1.86,2.0,2.14,2.28,2.42]],[1.92,[1.78,1.92,2.1,2.24,2.38,2.52]],[2.08,[1.9,2.04,2.18,2.34,2.5,2.66]],
[2.24,[2.0,2.16,2.3,2.44,2.6,2.76]],[2.4,[2.06,2.24,2.4,2.54,2.68,2.84]],[2.56,[2.1,2.28,2.44,2.6,2.76,2.92]],[2.7,[2.22,2.38,2.56,2.7,2.86,3.02]],
[2.86,[2.16,2.34,2.5,2.66,2.82,2.98,3.14]],[3.02,[2.24,2.42,2.6,2.76,2.92,3.08,3.24]],[3.18,[2.36,2.54,2.7,2.86,3.02,3.18,3.34]],[3.34,[2.44,2.62,2.78,2.96,3.12,3.28,3.44]],
[3.5,[2.48,2.66,2.82,2.98,3.14,3.3,3.46]],[3.66,[2.56,2.72,2.9,3.06,3.22,3.38,3.54]],[3.82,[2.6,2.76,2.94,3.1,3.26,3.42,3.58]],[3.98,[2.66,2.84,3.0,3.16,3.32,3.48]],
[4.14,[2.78,2.94,3.1,3.26,3.42,3.6]],[4.3,[2.62,2.8,2.98,3.14,3.3,3.46,3.62]],[4.48,[2.5,2.68,2.86,3.04,3.22,3.4,3.58]],[4.64,[2.62,2.82,3.0,3.2,3.38,3.56,3.72]],[4.8,[2.72,2.92,3.12,3.32,3.5,3.68]],[4.96,[2.9,3.1,3.28,3.46,3.64]]
];

function toPoints(cols: [number, number[]][]) {
  return cols.flatMap(([x, ys]) => ys.map((y) => ({ x, y })));
}

type Rows = [number, number[]][];
type Panel = {
  name: string; layers: Rows[]; ticks: number[]; labelled: number[];
  left: number; right: number; top: number; bottom: number; yMin: number; yMax: number;
  labelY: number; tickPad: number; showX: boolean;
};

const W = 780;
const H = 538;
const Y_W = 70;
const X_H = 60;

const panels: Panel[] = [
  { name: "1FQ1", layers: [cols1FQ1, extra1FQ1, core1FQ1], ticks: ticks1FQ1, labelled: labels1FQ1, left: 98.5, right: 410.5, top: 11.5, bottom: 231.5, yMin: 0.3, yMax: 4.07, labelY: 0.68, tickPad: 11.5, showX: false },
  { name: "1NW9", layers: [cols1NW9, extra1NW9, core1NW9], ticks: ticks1NW9, labelled: ticks1NW9, left: 461.5, right: 773.5, top: 11.5, bottom: 231.5, yMin: 0.07, yMax: 4.46, labelY: 0.51, tickPad: 20, showX: false },
  { name: "2HQS", layers: [cols2HQS, extra2HQS, core2HQS], ticks: ticks2HQS, labelled: ticks2HQS, left: 98.5, right: 410.5, top: 231.5, bottom: 453, yMin: -0.894, yMax: 4.876, labelY: -0.315, tickPad: 22, showX: true },
  { name: "2AJF", layers: [cols2AJF, extra2AJF, core2AJF], ticks: ticks2AJF, labelled: ticks2AJF, left: 461.5, right: 773.5, top: 231.5, bottom: 453, yMin: 0, yMax: 4.555, labelY: 0.454, tickPad: 20, showX: true },
];

function PanelChart({ p }: { p: Panel }) {
  const ref = useRef<HTMLCanvasElement>(null);
  useEffect(() => {
    if (!ref.current) return;
    const boxPlugin = {
      id: "box",
      afterDatasetsDraw(chart: any) {
        const { ctx, chartArea: a, scales } = chart;
        ctx.save();
        ctx.strokeStyle = "#000";
        ctx.lineWidth = 1.3;
        ctx.strokeRect(a.left, a.top, a.right - a.left, a.bottom - a.top);
        ctx.fillStyle = "#000";
        ctx.font = `30px ${FONT}`;
        ctx.textAlign = "center";
        ctx.textBaseline = "middle";
        ctx.fillText(p.name, scales.x.getPixelForValue(3.96), scales.y.getPixelForValue(p.labelY));
        ctx.restore();
      },
    };
    const noPad = (s: any) => { s.paddingTop = 0; s.paddingBottom = 0; s.paddingLeft = 0; s.paddingRight = 0; };
    const chart = new Chart(ref.current, {
      type: "scatter",
      data: {
        datasets: [{
          data: p.layers.flatMap(toPoints),
          pointStyle: "circle",
          pointRadius: 2.2,
          pointBorderWidth: 1.35,
          pointBorderColor: "#000",
          pointBackgroundColor: "rgba(0,0,0,0)",
          showLine: false,
        }],
      },
      options: {
        responsive: false,
        animation: false,
        devicePixelRatio: 1,
        layout: {
          padding: {
            left: p.left - Y_W,
            top: p.top,
            right: W - p.right,
            bottom: p.showX ? H - p.bottom - X_H : H - p.bottom,
          },
        },
        plugins: { legend: { display: false }, tooltip: { enabled: false }, title: { display: false } },
        scales: {
          x: {
            type: "linear",
            display: p.showX,
            min: -0.24,
            max: 6.24,
            afterBuildTicks: (s: any) => { s.ticks = xTicks.map((value) => ({ value })); },
            afterFit: (s: any) => { s.height = p.showX ? X_H : 0; noPad(s); },
            border: { display: false },
            grid: { drawOnChartArea: false, drawTicks: true, tickLength: 13, tickWidth: 1.3, tickColor: "#000", color: "#000" },
            ticks: { color: "#000", font: { family: FONT, size: 20 }, padding: 14, maxRotation: 0, minRotation: 0, autoSkip: false },
          },
          y: {
            type: "linear",
            min: p.yMin,
            max: p.yMax,
            afterBuildTicks: (s: any) => { s.ticks = p.ticks.map((value) => ({ value })); },
            afterFit: (s: any) => { s.width = Y_W; noPad(s); },
            border: { display: false },
            grid: { drawOnChartArea: false, drawTicks: true, tickLength: 13, tickWidth: 1.3, tickColor: "#000", color: "#000" },
            ticks: {
              color: "#000",
              font: { family: FONT, size: 20 },
              padding: p.tickPad,
              minRotation: 90,
              maxRotation: 90,
              crossAlign: "center",
              autoSkip: false,
              callback: (v: any) => (p.labelled.includes(v) ? (p.name === "1FQ1" ? Number(v).toFixed(1) : String(v)) : ""),
            },
          },
        },
      },
      plugins: [boxPlugin],
    } as any);
    return () => chart.destroy();
  }, []);
  return <canvas ref={ref} width={W} height={H} style={{ position: "absolute", left: 0, top: 0, width: W, height: H }} />;
}

export default function App() {
  return (
    <div style={{ position: "fixed", left: 0, top: 0, width: 771, height: 538, overflow: "hidden", background: "#fff", fontFamily: FONT, color: "#000" }}>
      {panels.map((p) => <PanelChart key={p.name} p={p} />)}
      <div style={{ position: "absolute", left: 19, top: 236, fontSize: 22, lineHeight: 1, whiteSpace: "nowrap", transform: "translate(-50%,-50%) rotate(-90deg)" }}>Score</div>
      <div style={{ position: "absolute", left: 423, top: 523, fontSize: 26, lineHeight: 1, whiteSpace: "nowrap", transform: "translate(-50%,-50%)" }}><i>i</i>RMSD (Å)</div>
    </div>
  );
}
